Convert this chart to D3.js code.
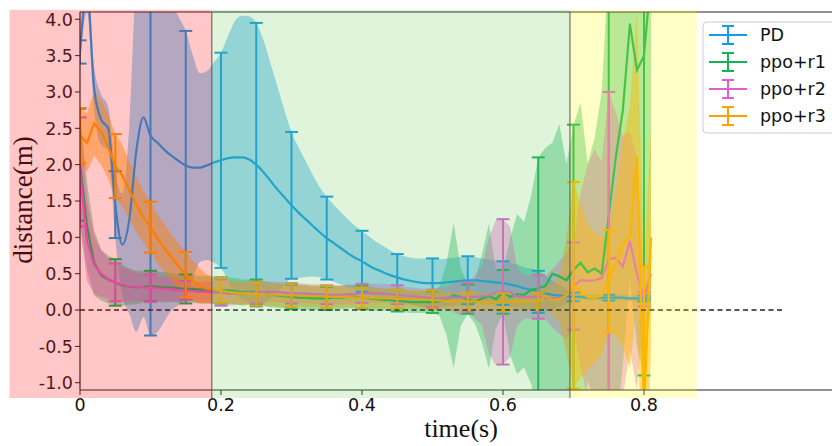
<!DOCTYPE html>
<html><head><meta charset="utf-8">
<script src="https://cdn.jsdelivr.net/npm/d3@7/dist/d3.min.js"></script>
<style>body{margin:0;background:#fff}svg{display:block}</style>
</head><body><svg id="c" width="832" height="446"></svg>
<script>
// ---------- data ----------
const seriesNames = ["PD","ppo+r1","ppo+r2","ppo+r3"];
const seriesColors = ["#139cea","#14b35a","#e05fd0","#ffa000"];
const timeStep = 0.01; // samples at 0.00 … 0.81 s
const pdMean = [3.55,4.4,3.05,2.62,2.5,1.45,0.9,1.25,2.2,2.65,
 2.4,2.3,2.2,2.12,2.05,1.99,1.96,1.96,1.99,2.03,
 2.06,2.09,2.1,2.1,2.07,2.0,1.9,1.78,1.66,1.55,
 1.44,1.34,1.25,1.16,1.07,0.99,0.92,0.85,0.78,0.72,
 0.67,0.61,0.56,0.52,0.48,0.45,0.42,0.40,0.38,0.37,
 0.37,0.37,0.38,0.39,0.40,0.41,0.41,0.40,0.39,0.38,
 0.37,0.35,0.33,0.30,0.28,0.25,0.23,0.21,0.20,0.19,
 0.18,0.18,0.17,0.17,0.17,0.17,0.17,0.17,0.16,0.16,0.16,0.16];
const pdStd = [0.16,0.3,0.3,0.35,0.3,0.46,0.7,1.3,2.5,2.75,
 2.75,2.6,2.35,2.12,1.98,1.85,1.55,1.3,1.3,1.38,
 1.48,1.68,1.88,1.95,1.97,1.95,1.82,1.62,1.42,1.2,
 1.01,0.9,0.8,0.7,0.62,0.57,0.53,0.50,0.47,0.44,
 0.42,0.40,0.38,0.36,0.34,0.32,0.32,0.32,0.33,0.34,
 0.34,0.33,0.33,0.33,0.33,0.33,0.32,0.31,0.31,0.30,
 0.30,0.30,0.30,0.29,0.29,0.29,0.25,0.2,0.15,0.1,
 0.06,0.04,0.04,0.04,0.04,0.04,0.04,0.04,0.04,0.04,0.04,0.04];
const r1Mean = [2.0,1.15,0.65,0.48,0.42,0.38,0.34,0.32,0.31,0.32,
 0.33,0.32,0.31,0.31,0.30,0.29,0.29,0.28,0.28,0.27,
 0.27,0.27,0.26,0.24,0.25,0.25,0.23,0.21,0.20,0.19,
 0.18,0.17,0.17,0.16,0.16,0.16,0.17,0.17,0.18,0.18,
 0.17,0.16,0.15,0.14,0.14,0.13,0.12,0.11,0.11,0.11,
 0.11,0.12,0.15,0.20,0.18,0.15,0.11,0.16,0.19,0.15,
 0.25,0.18,0.22,0.21,0.28,0.30,0.33,0.50,0.46,0.41,
 0.55,0.65,0.52,0.57,0.50,1.3,2.1,2.75,3.94,3.3,3.5,4.6];
const r1Std = [0.77,0.6,0.45,0.35,0.33,0.32,0.28,0.25,0.23,0.22,
 0.21,0.21,0.21,0.2,0.2,0.2,0.19,0.19,0.19,0.18,
 0.18,0.18,0.18,0.18,0.17,0.17,0.17,0.17,0.17,0.17,
 0.17,0.17,0.17,0.16,0.16,0.16,0.16,0.16,0.16,0.16,
 0.16,0.16,0.16,0.15,0.15,0.15,0.15,0.15,0.15,0.15,
 0.15,0.2,0.5,1.0,0.4,0.2,0.3,0.6,1.0,0.4,
 0.3,0.8,1.1,1.0,1.3,1.8,1.9,1.8,2.1,1.6,
 2.0,2.2,1.5,1.8,2.5,3.5,3.8,3.5,3.5,3.8,4.4,4.5];
const r2Mean = [1.9,0.95,0.62,0.5,0.43,0.38,0.35,0.33,0.32,0.31,
 0.30,0.30,0.29,0.28,0.27,0.27,0.26,0.25,0.25,0.24,
 0.24,0.23,0.23,0.23,0.24,0.24,0.25,0.25,0.25,0.24,
 0.23,0.23,0.23,0.22,0.22,0.21,0.21,0.21,0.22,0.22,
 0.23,0.23,0.23,0.23,0.22,0.21,0.20,0.19,0.18,0.17,
 0.16,0.16,0.17,0.17,0.17,0.18,0.18,0.19,0.20,0.24,
 0.25,0.25,0.18,0.18,0.18,0.18,0.17,0.16,0.17,0.20,
 0.33,0.41,0.40,0.41,0.44,0.70,0.72,0.60,0.95,0.50,0.15,0.50];
const r2Std = [0.75,0.55,0.4,0.32,0.28,0.26,0.24,0.22,0.2,0.19,
 0.19,0.18,0.17,0.16,0.15,0.13,0.13,0.14,0.15,0.16,
 0.18,0.17,0.16,0.15,0.15,0.15,0.15,0.14,0.14,0.14,
 0.14,0.14,0.13,0.13,0.13,0.13,0.13,0.13,0.13,0.13,
 0.13,0.13,0.13,0.13,0.13,0.13,0.12,0.12,0.12,0.12,
 0.12,0.15,0.15,0.2,0.25,0.2,0.3,0.4,0.8,1.0,
 1.0,0.9,0.4,0.3,0.3,0.3,0.3,0.4,0.5,0.6,
 0.6,1.2,1.6,1.8,1.6,2.3,2.0,1.8,1.5,1.6,0.1,0.5];
const r3Mean = [2.4,2.3,2.57,2.45,2.25,1.98,1.85,1.65,1.45,1.28,
 1.14,0.98,0.85,0.72,0.6,0.49,0.40,0.33,0.29,0.28,
 0.27,0.25,0.24,0.23,0.23,0.22,0.22,0.21,0.21,0.20,
 0.20,0.20,0.19,0.19,0.19,0.18,0.18,0.18,0.18,0.17,
 0.17,0.17,0.16,0.16,0.16,0.15,0.15,0.15,0.15,0.14,
 0.14,0.13,0.13,0.12,0.12,0.12,0.12,0.11,0.11,0.11,
 0.11,0.12,0.11,0.12,0.12,0.12,0.20,0.14,0.15,0.20,
 0.34,0.27,0.18,0.17,0.20,0.40,0.65,0.90,1.0,2.1,-1.4,1.0];
const r3Std = [0.38,0.4,0.45,0.45,0.44,0.44,0.42,0.4,0.38,0.36,
 0.35,0.34,0.33,0.32,0.31,0.31,0.28,0.24,0.2,0.18,
 0.17,0.16,0.16,0.16,0.16,0.16,0.16,0.16,0.16,0.16,
 0.16,0.15,0.15,0.15,0.15,0.15,0.15,0.15,0.14,0.14,
 0.14,0.14,0.14,0.14,0.14,0.13,0.13,0.13,0.13,0.13,
 0.13,0.12,0.12,0.12,0.12,0.12,0.12,0.12,0.12,0.12,
 0.12,0.12,0.12,0.12,0.12,0.12,0.15,0.2,0.3,0.8,
 1.42,1.2,1.0,0.9,0.8,0.7,1.0,1.4,1.8,2.0,2.0,1.5];
const xTicks = [0,0.2,0.4,0.6,0.8];
const xTickLabels = ["0","0.2","0.4","0.6","0.8"];
const yTicks = [-1.0,-0.5,0.0,0.5,1.0,1.5,2.0,2.5,3.0,3.5,4.0];
const yTickLabels = ["-1.0","-0.5","0.0","0.5","1.0","1.5","2.0","2.5","3.0","3.5","4.0"];
const phaseStart = [-0.1,0.187,0.695];
const phaseEnd = [0.187,0.695,0.875];
const phaseColors = ["rgba(255,0,0,0.22)","rgba(100,200,80,0.2)","rgba(255,255,0,0.22)"];
const phaseDividers = [0.187,0.695];
const errorEvery = 5;

// ---------- layout ----------
const svg = d3.select("#c");
const x = d3.scaleLinear().domain([0,1.07]).range([80,80+1.07*705]);
const y = d3.scaleLinear().domain([-1.1,4.1]).range([390,12]);
const means = [pdMean,r1Mean,r2Mean,r3Mean];
const stds = [pdStd,r1Std,r2Std,r3Std];
const bandOpacity = [0.4,0.38,0.4,0.45];
const curves = [d3.curveMonotoneX,d3.curveLinear,d3.curveLinear,d3.curveLinear];
const tOf = i => i*timeStep;

svg.append("defs").append("clipPath").attr("id","pc")
  .append("rect").attr("x",80).attr("y",12).attr("width",760).attr("height",378);

const plot = svg.append("g").attr("clip-path","url(#pc)");

// bands
means.forEach((m,k)=>{
  const sd = stds[k];
  const area = d3.area().curve(curves[k])
    .x((d,i)=>x(tOf(i))).y0((d,i)=>y(m[i]-sd[i])).y1((d,i)=>y(m[i]+sd[i]));
  plot.append("path").datum(m).attr("d",area)
    .attr("fill",seriesColors[k]).attr("fill-opacity",bandOpacity[k]).attr("stroke","none");
});
// lines + error bars
means.forEach((m,k)=>{
  const sd = stds[k];
  const line = d3.line().curve(curves[k]).x((d,i)=>x(tOf(i))).y(d=>y(d));
  plot.append("path").datum(m).attr("d",line)
    .attr("fill","none").attr("stroke",seriesColors[k]).attr("stroke-width",2.2);
  const idx = d3.range(0,m.length,errorEvery);
  const g = plot.append("g").attr("stroke",seriesColors[k]).attr("stroke-width",2);
  idx.forEach(i=>{
    const cx = x(tOf(i)), lo = y(m[i]-sd[i]), hi = y(m[i]+sd[i]);
    g.append("line").attr("x1",cx).attr("x2",cx).attr("y1",lo).attr("y2",hi);
    g.append("line").attr("x1",cx-6.5).attr("x2",cx+6.5).attr("y1",lo).attr("y2",lo);
    g.append("line").attr("x1",cx-6.5).attr("x2",cx+6.5).attr("y1",hi).attr("y2",hi);
  });
});

// zero line
svg.append("line").attr("x1",x(0)).attr("x2",x(0.996)).attr("y1",y(0)).attr("y2",y(0))
  .attr("stroke","#222").attr("stroke-width",1.5).attr("stroke-dasharray","5,3.5");

// axes
const axisColor="#222";
svg.append("line").attr("x1",80).attr("x2",832).attr("y1",12).attr("y2",12).attr("stroke",axisColor).attr("stroke-width",1);
svg.append("line").attr("x1",80).attr("x2",832).attr("y1",390).attr("y2",390).attr("stroke",axisColor).attr("stroke-width",1.2);
svg.append("line").attr("x1",80).attr("x2",80).attr("y1",12).attr("y2",390).attr("stroke",axisColor).attr("stroke-width",1.2);
const yAxis = svg.append("g").attr("font-family","DejaVu Sans").attr("font-size",17.5).attr("fill","#222");
yTicks.forEach((v,i)=>{
  yAxis.append("line").attr("x1",75).attr("x2",80).attr("y1",y(v)).attr("y2",y(v)).attr("stroke",axisColor);
  yAxis.append("text").attr("x",73).attr("y",y(v)).attr("dy","0.36em").attr("text-anchor","end").text(yTickLabels[i]);
});
const xAxis = svg.append("g").attr("font-family","DejaVu Sans").attr("font-size",17.5).attr("fill","#111");
xTicks.forEach((v,i)=>{
  xAxis.append("line").attr("x1",x(v)).attr("x2",x(v)).attr("y1",390).attr("y2",395).attr("stroke",axisColor);
  xAxis.append("text").attr("x",x(v)).attr("y",411).attr("text-anchor","middle").text(xTickLabels[i]);
});
svg.append("text").attr("x",461).attr("y",437).attr("text-anchor","middle")
  .attr("font-family","Liberation Serif").attr("font-size",26).attr("fill","#111").text("time(s)");
svg.append("text").attr("transform","translate(32,200) rotate(-90)").attr("text-anchor","middle")
  .attr("font-family","Liberation Serif").attr("font-size",27).attr("fill","#111").text("distance(m)");

// phase overlays
phaseStart.forEach((s,i)=>{
  svg.append("rect").attr("x",x(s)).attr("width",x(phaseEnd[i])-x(s))
    .attr("y",y(4.13)).attr("height",y(-1.21)-y(4.13)).attr("fill",phaseColors[i]);
});
phaseDividers.forEach(t=>{
  svg.append("line").attr("x1",x(t)).attr("x2",x(t)).attr("y1",y(4.1)).attr("y2",y(-1.21))
    .attr("stroke","#555").attr("stroke-width",1);
});

// legend
const lg = svg.append("g").attr("transform","translate(703,22)");
lg.append("rect").attr("x",0).attr("y",0).attr("width",145).attr("height",111).attr("rx",4)
  .attr("fill","#fff").attr("fill-opacity",0.85).attr("stroke","#ccc");
seriesNames.forEach((n,i)=>{
  const cy = 13+i*27;
  const c = seriesColors[i];
  lg.append("line").attr("x1",6).attr("x2",44).attr("y1",cy).attr("y2",cy).attr("stroke",c).attr("stroke-width",2.2);
  lg.append("line").attr("x1",25).attr("x2",25).attr("y1",cy-9).attr("y2",cy+9).attr("stroke",c).attr("stroke-width",2);
  lg.append("line").attr("x1",19).attr("x2",31).attr("y1",cy-9).attr("y2",cy-9).attr("stroke",c).attr("stroke-width",2);
  lg.append("line").attr("x1",19).attr("x2",31).attr("y1",cy+9).attr("y2",cy+9).attr("stroke",c).attr("stroke-width",2);
  lg.append("text").attr("x",57).attr("y",cy).attr("dy","0.36em").attr("font-family","DejaVu Sans")
    .attr("font-size",17.5).attr("fill","#111").text(n);
});
</script></body></html>
